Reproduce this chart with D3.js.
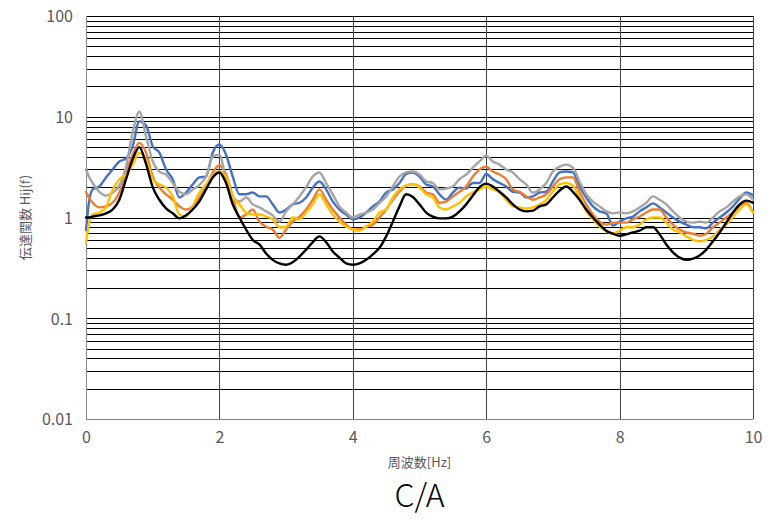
<!DOCTYPE html>
<html><head><meta charset="utf-8">
<script src="https://cdn.jsdelivr.net/npm/d3@7"></script>
<style>
html,body{margin:0;padding:0;background:#fff;}
svg{display:block;}
text{font-family:"Noto Sans CJK JP","Noto Sans",sans-serif;}
</style></head>
<body><svg id="c" width="779" height="519"></svg>
<script>
const freq = [0,0.05,0.1,0.2,0.3,0.4,0.5,0.6,0.7,0.8,0.9,1.0,1.1,1.2,1.3,1.4,1.5,1.6,1.7,1.8,1.9,2.0,2.1,2.2,2.3,2.4,2.5,2.6,2.7,2.8,2.9,3.0,3.1,3.2,3.3,3.4,3.5,3.6,3.7,3.8,3.9,4.0,4.1,4.2,4.3,4.4,4.5,4.6,4.7,4.8,4.9,5.0,5.1,5.2,5.3,5.4,5.5,5.6,5.7,5.8,5.9,6.0,6.1,6.2,6.3,6.4,6.5,6.6,6.7,6.8,6.9,7.0,7.1,7.2,7.3,7.4,7.5,7.6,7.7,7.8,7.9,8.0,8.1,8.2,8.3,8.4,8.5,8.6,8.7,8.8,8.9,9.0,9.1,9.2,9.3,9.4,9.5,9.6,9.7,9.8,9.9,10.0];

const blue   = [0.75,1.5,1.9,2.03,2.5,3.0,3.6,3.85,5.1,9.0,8.2,5.1,4.4,3.0,2.4,1.58,1.77,2.13,2.5,2.55,4.4,5.3,4.2,2.55,1.7,1.7,1.77,1.62,1.62,1.35,1.12,1.2,1.35,1.4,1.58,1.98,2.28,1.9,1.44,1.2,1.07,0.96,1.0,1.12,1.29,1.44,1.77,1.9,2.2,2.7,2.8,2.55,2.13,2.03,1.7,1.5,1.77,1.98,1.94,2.2,2.2,2.7,2.4,2.2,2.03,1.8,1.77,1.58,1.62,1.77,1.8,2.28,2.8,2.86,2.8,2.03,1.58,1.29,1.15,1.1,0.83,0.91,0.98,1.02,1.15,1.26,1.38,1.26,1.12,1.0,0.91,0.85,0.8,0.8,0.78,0.89,1.0,1.12,1.29,1.54,1.77,1.65];
const orange = [1.8,1.55,1.4,1.26,1.29,1.4,1.77,2.86,4.2,5.5,4.4,2.55,1.98,1.7,1.5,1.29,1.2,1.29,1.58,2.03,2.8,3.3,2.67,1.62,1.0,1.07,1.2,0.91,0.81,0.76,0.63,0.76,0.91,1.02,1.2,1.5,1.9,1.5,1.2,1.0,0.85,0.76,0.76,0.81,0.85,1.0,1.2,1.5,1.8,2.07,2.13,2.03,1.77,1.7,1.4,1.44,1.62,1.8,2.03,2.55,3.0,3.2,2.86,2.67,2.4,1.9,1.8,1.62,1.5,1.58,1.7,2.03,2.4,2.5,2.5,1.8,1.35,1.07,0.91,0.85,0.89,0.89,0.89,0.96,1.02,1.12,1.2,1.2,1.0,0.85,0.76,0.71,0.69,0.66,0.69,0.8,0.89,1.0,1.12,1.29,1.4,1.12];
const gray   = [3.0,2.5,2.2,1.8,1.65,1.77,2.07,3.2,7.0,11.2,6.4,3.6,2.86,2.67,2.2,1.8,1.7,1.9,2.1,2.55,4.0,4.2,2.4,1.58,1.44,1.58,1.35,1.26,1.15,1.05,0.91,1.15,1.35,1.62,2.0,2.55,2.8,2.2,1.7,1.29,1.12,1.0,1.07,1.12,1.2,1.4,1.62,2.03,2.55,2.8,2.86,2.67,2.28,2.2,1.9,1.94,2.03,2.4,2.67,3.13,3.6,4.1,3.6,3.35,3.0,2.8,2.4,2.13,1.77,1.9,2.2,2.86,3.2,3.35,3.13,2.28,1.7,1.44,1.29,1.15,1.1,1.12,1.1,1.15,1.26,1.4,1.62,1.5,1.35,1.15,1.0,0.91,0.89,0.91,0.89,1.0,1.15,1.26,1.44,1.62,1.7,1.5];
const yellow = [0.56,0.9,1.07,1.12,1.26,1.9,2.4,2.67,3.35,4.4,3.75,2.4,2.13,1.98,1.62,1.07,1.02,1.29,1.77,2.13,2.67,2.86,2.5,1.62,1.35,1.12,1.07,1.07,1.02,0.96,0.8,0.81,1.0,0.96,1.12,1.35,1.7,1.35,1.07,0.91,0.81,0.76,0.74,0.81,0.91,1.12,1.2,1.58,1.9,2.07,2.13,1.98,1.7,1.58,1.26,1.2,1.29,1.4,1.62,1.77,1.9,2.03,1.9,1.77,1.5,1.29,1.26,1.23,1.26,1.35,1.5,1.8,2.13,2.2,2.07,1.58,1.15,0.96,0.81,0.73,0.69,0.74,0.8,0.8,0.85,0.96,1.0,1.0,0.89,0.76,0.71,0.65,0.6,0.58,0.6,0.65,0.76,0.85,1.02,1.2,1.35,1.12];
const black  = [1.0,1.0,1.02,1.05,1.1,1.2,1.5,2.4,3.8,5.0,3.4,2.0,1.5,1.23,1.1,0.98,1.05,1.2,1.45,1.9,2.5,2.8,2.2,1.35,1.0,0.76,0.6,0.54,0.44,0.38,0.35,0.34,0.36,0.41,0.48,0.57,0.65,0.57,0.46,0.4,0.35,0.34,0.35,0.38,0.43,0.5,0.65,0.91,1.29,1.7,1.6,1.35,1.12,1.02,0.98,0.98,1.02,1.15,1.35,1.65,2.0,2.17,2.03,1.8,1.58,1.35,1.2,1.15,1.17,1.29,1.35,1.58,1.85,2.03,1.8,1.5,1.2,1.0,0.85,0.74,0.69,0.66,0.68,0.71,0.74,0.8,0.8,0.68,0.54,0.45,0.4,0.38,0.39,0.42,0.48,0.58,0.71,0.89,1.12,1.35,1.47,1.4];

const xTicks = [0,2,4,6,8,10];
const yTicks = [0.01,0.1,1,10,100];
const yTickLabels = ["0.01","0.1","1","10","100"];
const xTitle = "周波数[Hz]";
const yTitle = "伝達関数 Hij(f)";
const chartTitle = "C/A";

const series = [
  {name:"blue", values:blue, color:"#4472C4"},
  {name:"orange", values:orange, color:"#ED7D31"},
  {name:"gray", values:gray, color:"#A5A5A5"},
  {name:"yellow", values:yellow, color:"#FFC000"},
  {name:"black", values:black, color:"#000000"}
];

const svg = d3.select("#c");
const L = 86, R = 753, T = 16, B = 419;
const x = d3.scaleLinear().domain([0,10]).range([L,R]);
const y = d3.scaleLog().domain([0.01,100]).range([B,T]);

// horizontal grid lines (minor)
const minor = [];
[0.01,0.1,1,10].forEach(d => { for (let k=2;k<=9;k++) minor.push(d*k); });
svg.append("g").selectAll("line").data(minor).join("line")
  .attr("x1",L).attr("x2",R)
  .attr("y1",d=>Math.round(y(d))+0.5).attr("y2",d=>Math.round(y(d))+0.5)
  .attr("stroke","#000").attr("stroke-width",1);
svg.append("g").selectAll("line").data(yTicks).join("line")
  .attr("x1",L).attr("x2",R)
  .attr("y1",d=>Math.round(y(d))+0.5).attr("y2",d=>Math.round(y(d))+0.5)
  .attr("stroke",d=>d===0.01?"#888":"#000").attr("stroke-width",1);

// vertical grid lines
svg.append("g").selectAll("line").data(xTicks).join("line")
  .attr("x1",d=>Math.round(x(d))+0.5).attr("x2",d=>Math.round(x(d))+0.5)
  .attr("y1",T).attr("y2",B)
  .attr("stroke",d=>d===0?"#888":"#444").attr("stroke-width",1);

// axes labels
const xAxis = d3.axisBottom(x).tickValues(xTicks).tickSize(0).tickPadding(0).tickFormat(d3.format("d"));
const gx = svg.append("g").attr("transform",`translate(0,${B})`).call(xAxis);
gx.select(".domain").remove();
gx.selectAll("text").attr("y",24).attr("dy",0).attr("font-size",16).attr("fill","#595959")
  .style("font-family","'Noto Sans CJK JP','Noto Sans',sans-serif");

const yAxis = d3.axisLeft(y).tickValues(yTicks).tickSize(0).tickPadding(0).tickFormat((d,i)=>yTickLabels[i]);
const gy = svg.append("g").attr("transform",`translate(${L},0)`).call(yAxis);
gy.select(".domain").remove();
gy.selectAll("text").attr("x",-13).attr("dy","0.36em").attr("font-size",16).attr("fill","#595959")
  .style("font-family","'Noto Sans CJK JP','Noto Sans',sans-serif");

// lines
const line = d3.line().x((d,i)=>x(freq[i])).y(d=>y(d)).curve(d3.curveMonotoneX);
svg.append("g").selectAll("path").data(series).join("path")
  .attr("d",s=>line(s.values))
  .attr("fill","none").attr("stroke",s=>s.color).attr("stroke-width",2.4)
  .attr("stroke-linejoin","round").attr("stroke-linecap","round");

// titles
svg.append("text").attr("x",(L+R)/2).attr("y",467).attr("text-anchor","middle")
  .attr("font-size",13).attr("fill","#595959").text(xTitle);
svg.append("text").attr("transform",`translate(30,${(T+B)/2}) rotate(-90)`).attr("text-anchor","middle")
  .attr("font-size",13).attr("fill","#595959").text(yTitle);
svg.append("text").attr("x",(L+R)/2).attr("y",507).attr("text-anchor","middle")
  .attr("font-size",32).attr("fill","#000").style("font-weight",300).text(chartTitle);
</script></body></html>
